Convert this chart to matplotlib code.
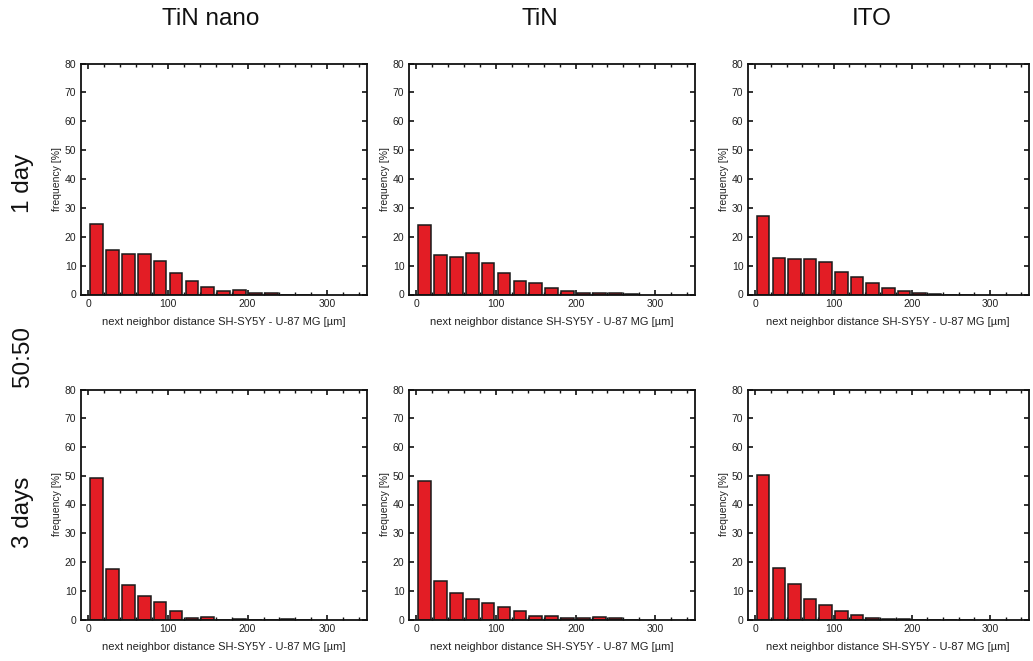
import numpy as np
import matplotlib
matplotlib.use("Agg")
import matplotlib.pyplot as plt
from matplotlib.ticker import MultipleLocator

plt.rcParams['font.family'] = ['Liberation Sans', 'DejaVu Sans']

# Histogram bin centres (µm), 20 µm bins
bin_centers = [10, 30, 50, 70, 90, 110, 130, 150, 170, 190, 210, 230, 250, 270]

columns = ["TiN nano", "TiN", "ITO"]
rows = ["1 day", "3 days"]
middle_label = "50:50"

# Frequencies [%] per bin
tin_nano_1d = [24.5, 15.3, 14.0, 14.0, 11.6, 7.6, 4.7, 2.7, 1.3, 1.6, 0.35, 0.4, 0.0, 0.0]
tin_1d      = [24.1, 13.6, 13.1, 14.2, 10.8, 7.4, 4.7, 4.0, 2.1, 1.3, 0.6, 0.4, 0.35, 0.3]
ito_1d      = [27.3, 12.8, 12.2, 12.4, 11.3, 7.8, 5.9, 4.1, 2.3, 1.3, 0.35, 0.3, 0.0, 0.0]
tin_nano_3d = [49.1, 17.4, 11.9, 8.2, 6.0, 3.0, 0.5, 0.7, 0.0, 0.15, 0.0, 0.0, 0.15, 0.0]
tin_3d      = [48.3, 13.5, 9.3, 7.1, 5.9, 4.4, 2.9, 1.3, 1.3, 0.5, 0.6, 1.0, 0.5, 0.0]
ito_3d      = [50.3, 17.9, 12.4, 7.2, 5.2, 2.9, 1.6, 0.6, 0.2, 0.1, 0.0, 0.0, 0.0, 0.0]

data = [[tin_nano_1d, tin_1d, ito_1d],
        [tin_nano_3d, tin_3d, ito_3d]]

W, H = 1033, 661
fig = plt.figure(figsize=(W / 100, H / 100), dpi=100)

# axes boxes in pixels: (left, right) per column, (top, bottom) per row
col_px = [(80.5, 367), (408.5, 695), (747.5, 1029)]
row_px = [(63.5, 294.5), (389.5, 619.5)]

bar_color = "#e31d25"
edge_color = "#1a1a1a"
text_color = "#222222"

for r, (top, bot) in enumerate(row_px):
    for c, (left, right) in enumerate(col_px):
        ax = fig.add_axes([left / W, 1 - bot / H, (right - left) / W, (bot - top) / H])
        ax.bar(bin_centers, data[r][c], width=16, color=bar_color,
               edgecolor=edge_color, linewidth=1.1, zorder=2)
        ax.set_xlim(-10, 350)
        ax.set_ylim(0, 80)
        ax.xaxis.set_major_locator(MultipleLocator(100))
        ax.xaxis.set_minor_locator(MultipleLocator(20))
        ax.yaxis.set_major_locator(MultipleLocator(10))
        ax.tick_params(which='both', direction='in', top=True, right=True,
                       labelsize=7.5, labelcolor=text_color, color='#111111', pad=3)
        ax.tick_params(which='major', length=3.5, width=1.2)
        ax.tick_params(which='minor', length=2, width=1.0)
        for s in ax.spines.values():
            s.set_linewidth(1.3)
            s.set_color('#111111')
        ax.set_xlabel("next neighbor distance SH-SY5Y - U-87 MG [µm]",
                      fontsize=8, color=text_color, labelpad=6)
        ax.set_ylabel("frequency [%]", fontsize=7.5, color=text_color, labelpad=2)

# column titles
title_x = [211, 540, 872]
for name, x in zip(columns, title_x):
    fig.text(x / W, 1 - 19 / H, name, fontsize=17.5, ha='center', va='center',
             color='#111111')

# row labels
fig.text(23 / W, 1 - 183 / H, rows[0], fontsize=17.5, rotation=90,
         ha='center', va='center', color='#111111')
fig.text(23 / W, 1 - 357 / H, middle_label, fontsize=17.5, rotation=90,
         ha='center', va='center', color='#111111')
fig.text(23 / W, 1 - 512 / H, rows[1], fontsize=17.5, rotation=90,
         ha='center', va='center', color='#111111')

fig.savefig("out.png", dpi=100, facecolor='white')
